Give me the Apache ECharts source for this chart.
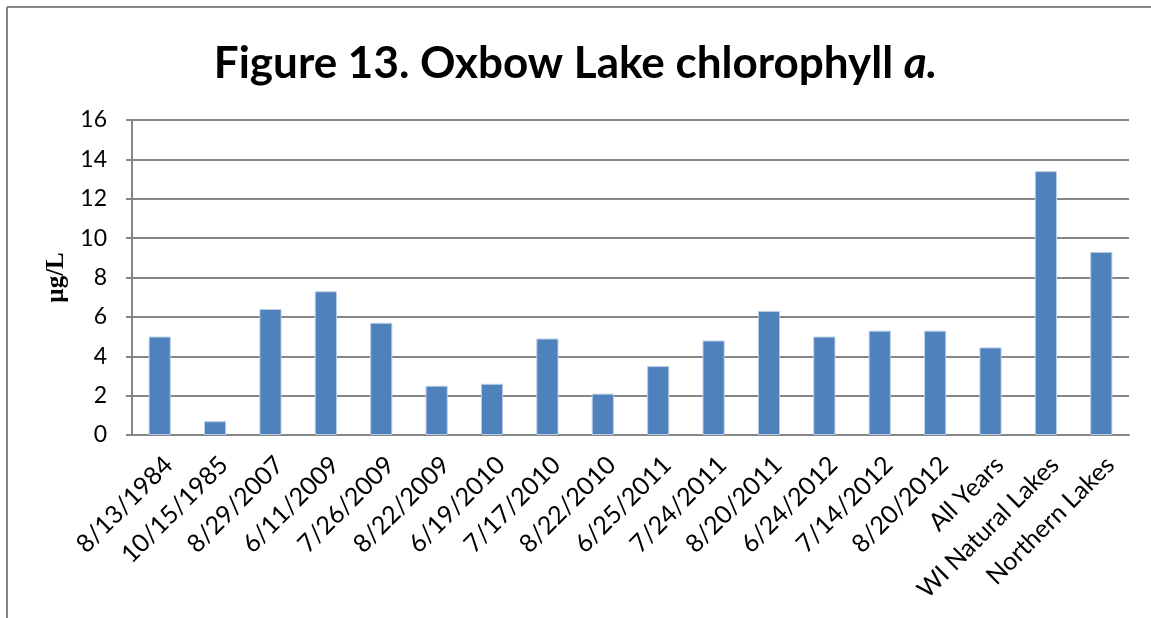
<!DOCTYPE html>
<html>
<head>
<meta charset="utf-8">
<script src="https://cdn.jsdelivr.net/npm/echarts@6/dist/echarts.min.js"></script>
<style>
  html, body { margin: 0; padding: 0; background: #fff; }
  #chart { width: 1151px; height: 618px; }
</style>
</head>
<body>
<div id="chart"></div>
<script>
  // sampling dates plus the reference averages
  var categories = [
    '8/13/1984', '10/15/1985', '8/29/2007', '6/11/2009', '7/26/2009', '8/22/2009',
    '6/19/2010', '7/17/2010', '8/22/2010', '6/25/2011', '7/24/2011', '8/20/2011',
    '6/24/2012', '7/14/2012', '8/20/2012', 'All Years', 'WI Natural Lakes', 'Northern Lakes'
  ]
  // chlorophyll a, ug/L
  var chlorophyll = [5.0, 0.7, 6.4, 7.3, 5.7, 2.5, 2.6, 4.9, 2.1, 3.5, 4.8, 6.3, 5.0, 5.3, 5.3, 4.45, 13.4, 9.3]
  var yTicks = [0, 2, 4, 6, 8, 10, 12, 14, 16]

  var font = 'Lato'
  var grey = '#868686'

  var myChart = echarts.init(document.getElementById('chart'))
  myChart.setOption({
    animation: false,
    title: {
      text: '{n|Figure 13. Oxbow Lake chlorophyll }{i|a.}',
      left: 'center',
      top: 37,
      textStyle: {
        rich: {
          n: { fontFamily: font, fontWeight: 'bold', fontSize: 44, color: '#000' },
          i: { fontFamily: font, fontWeight: 'bold', fontStyle: 'italic', fontSize: 44, color: '#000' }
        }
      }
    },
    graphic: [
      { type: 'line', shape: { x1: 7, y1: 7, x2: 1151, y2: 7 }, style: { stroke: grey, lineWidth: 2 } },
      { type: 'line', shape: { x1: 7, y1: 7, x2: 7, y2: 618 }, style: { stroke: grey, lineWidth: 2 } }
    ],
    grid: { left: 132, right: 22, top: 120, bottom: 183 },
    xAxis: {
      type: 'category',
      data: categories,
      axisLine: { lineStyle: { color: grey, width: 2 } },
      axisTick: { show: false },
      axisLabel: {
        interval: 0,
        rotate: 45,
        margin: 17,
        verticalAlign: 'top',
        fontFamily: font,
        fontSize: 25,
        color: '#000'
      }
    },
    yAxis: {
      type: 'value',
      min: yTicks[0],
      max: yTicks[yTicks.length - 1],
      interval: yTicks[1] - yTicks[0],
      name: 'µg/L',
      nameLocation: 'middle',
      nameRotate: 90,
      nameGap: 60,
      nameTextStyle: { fontFamily: 'Liberation Serif', fontWeight: 'bold', fontSize: 25, color: '#000' },
      axisLine: { show: true, lineStyle: { color: grey, width: 2 } },
      axisTick: { show: true, length: 6, lineStyle: { color: grey, width: 2 } },
      axisLabel: { margin: 25, fontFamily: font, fontSize: 23, color: '#000' },
      splitLine: { lineStyle: { color: grey, width: 2 } }
    },
    series: [
      {
        name: 'chlorophyll a',
        type: 'bar',
        data: chlorophyll,
        barCategoryGap: '60%',
        itemStyle: { color: '#4F81BD', borderColor: '#B9CDE5', borderWidth: 1 }
      }
    ]
  })
</script>
</body>
</html>
